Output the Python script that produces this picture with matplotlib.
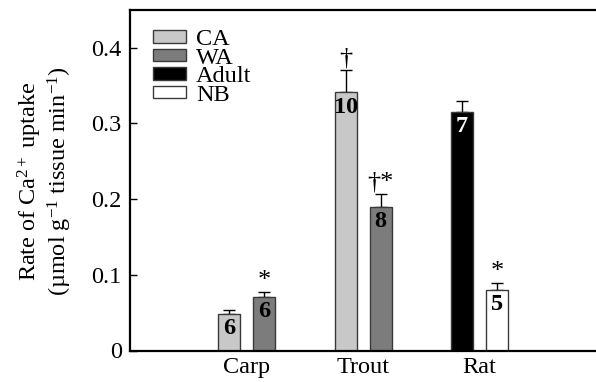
import matplotlib
matplotlib.use("Agg")
import matplotlib.pyplot as plt
from matplotlib.patches import Patch
import numpy as np

plt.rcParams["font.family"] = ["Liberation Serif", "DejaVu Serif"]
plt.rcParams["mathtext.fontset"] = "custom"
plt.rcParams["mathtext.rm"] = "Liberation Serif"
plt.rcParams["mathtext.it"] = "Liberation Serif:italic"
plt.rcParams["mathtext.bf"] = "Liberation Serif:bold"

# Ca2+ uptake per species and group
species = ["Carp", "Trout", "Rat"]
groups = ["CA", "WA", "Adult", "NB"]

# one entry per bar: species index, group, mean, upper error, n, significance mark
bar_species = [0, 0, 1, 1, 2, 2]
bar_group = ["CA", "WA", "CA", "WA", "Adult", "NB"]
bar_side = [-1, 1, -1, 1, -1, 1]
bar_mean = [0.048, 0.071, 0.341, 0.190, 0.315, 0.080]
bar_err = [0.006, 0.006, 0.030, 0.017, 0.015, 0.009]
bar_n = ["6", "6", "10", "8", "7", "5"]
bar_mark = ["", "*", "\u2020", "\u2020*", "", "*"]

group_color = {"CA": "#c8c8c8", "WA": "#7c7c7c", "Adult": "#000000", "NB": "#ffffff"}
n_color = {"CA": "black", "WA": "black", "Adult": "white", "NB": "black"}

yticks = [0, 0.1, 0.2, 0.3, 0.4]
ytick_labels = ["0", "0.1", "0.2", "0.3", "0.4"]

FS = 17.5

fig = plt.figure(figsize=(5.96, 3.82), dpi=100)
ax = fig.add_axes([130 / 596, 1 - 350.5 / 382, 1 - 130 / 596 + 0.01, 340.5 / 382])

offset = 0.15
width = 0.188
x = np.array(bar_species) + offset * np.array(bar_side)

for xi, g, m, e, n, mark in zip(x, bar_group, bar_mean, bar_err, bar_n, bar_mark):
    ax.bar(xi, m, width=width, color=group_color[g], edgecolor="#3a3a3a",
           linewidth=1.0, zorder=2)
    ax.errorbar(xi, m, yerr=[[0], [e]], fmt="none", ecolor="black",
                elinewidth=1.0, capsize=4, capthick=1.0, zorder=1)
    ax.annotate(n, (xi, m), xytext=(0, -10.5), textcoords="offset points",
                ha="center", va="center", fontsize=FS, fontweight="bold",
                color=n_color[g], zorder=3)
    if mark:
        ax.annotate(mark, (xi, m + e), xytext=(0, 8), textcoords="offset points",
                    ha="center", va="center", fontsize=19, zorder=3)

ax.set_xlim(-1.0, 3.05)
ax.set_ylim(0, 0.45)
ax.set_xticks(range(len(species)))
ax.set_xticklabels(species, fontsize=FS)
ax.set_yticks(yticks)
ax.set_yticklabels(ytick_labels, fontsize=FS)
ax.tick_params(axis="x", length=0, pad=5)
ax.tick_params(axis="y", direction="in", length=5, width=1, pad=6)

for side in ["top", "bottom", "left"]:
    ax.spines[side].set_linewidth(1.6)
ax.spines["right"].set_visible(False)

handles = [Patch(facecolor=group_color[g], edgecolor="#3a3a3a", linewidth=1.0)
           for g in groups]
ax.legend(handles, groups, loc="upper left", bbox_to_anchor=(0.024, 0.98),
          frameon=False, fontsize=FS, handlelength=1.35, handleheight=0.42,
          handletextpad=0.4, labelspacing=-0.1, borderpad=0.0)

fig.text(45 / 596, 1 - 181 / 382,
         "Rate of Ca$^{2+}$ uptake\n(\u00b5mol g$^{\u22121}$ tissue min$^{\u22121}$)",
         rotation=90, ha="center", va="center", multialignment="center",
         fontsize=FS, linespacing=1.05)

fig.savefig("out.png", dpi=100)
